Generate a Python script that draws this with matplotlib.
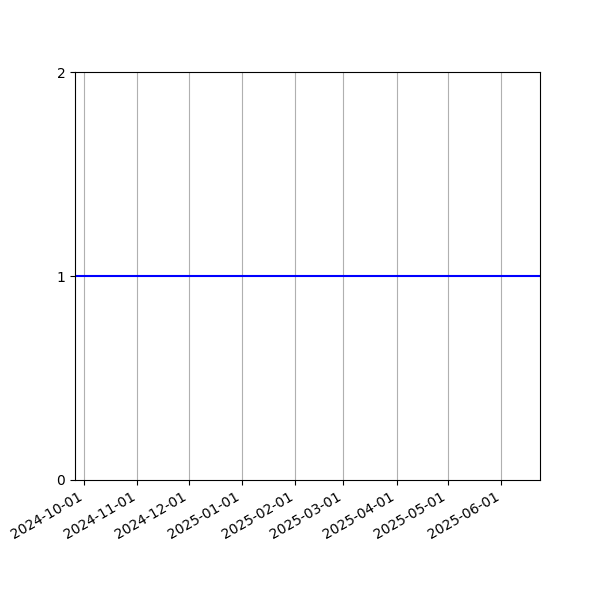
import matplotlib
matplotlib.use('Agg')
import matplotlib.pyplot as plt
import matplotlib.dates as mdates
import pandas as pd

# data
dates = pd.to_datetime(['2024-09-25 14:00', '2025-06-23 13:00'])
values = [1, 1]
y_ticks = [0, 1, 2]

fig, ax = plt.subplots(figsize=(6, 6), dpi=100)
ax.plot(dates, values, color='blue', linewidth=1.5)
ax.set_xlim(dates[0], dates[-1])
ax.set_ylim(0, 2)
ax.set_yticks(y_ticks)
ax.xaxis.set_major_locator(mdates.MonthLocator())
ax.xaxis.set_major_formatter(mdates.DateFormatter('%Y-%m-%d'))
ax.grid(axis='x')
fig.autofmt_xdate()

fig.savefig('out.png', dpi=100)
